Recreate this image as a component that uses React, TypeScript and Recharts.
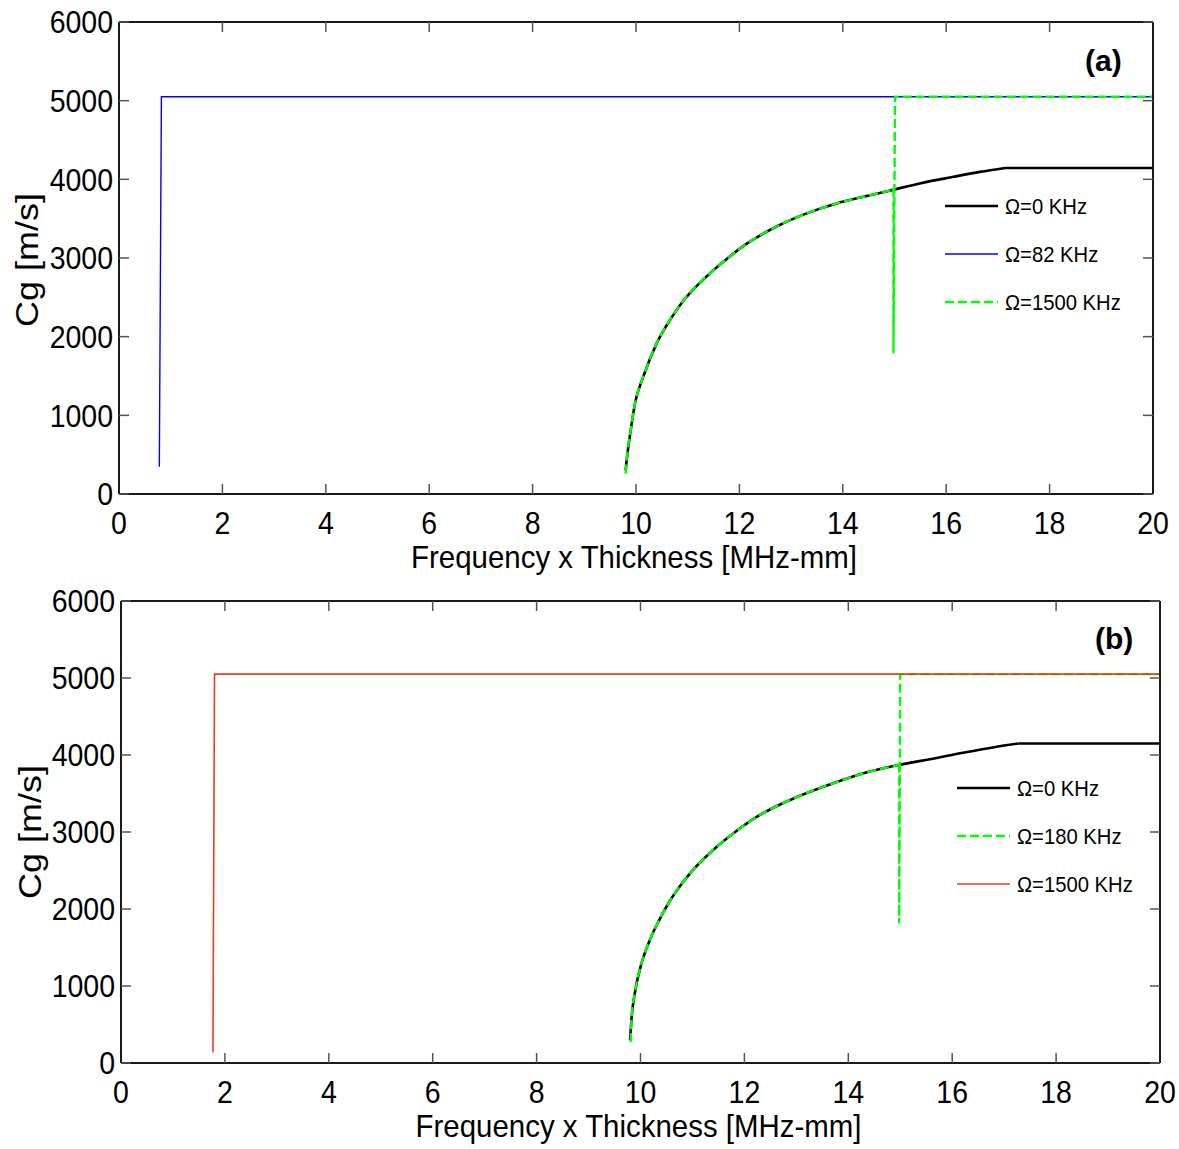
import React from 'react';
import { LineChart, Line, XAxis, YAxis, Legend } from 'recharts';

const FONT = '"Liberation Sans", Arial, sans-serif';
const SX = 0.89; // horizontal condensation of the reference's text

// ---------- shared axes ----------
const xTicks = [0, 2, 4, 6, 8, 10, 12, 14, 16, 18, 20];
const yTicks = [0, 1000, 2000, 3000, 4000, 5000, 6000];
const xLabel = 'Frequency x Thickness [MHz-mm]';
const yLabel = 'Cg [m/s]';

// ---------- panel (a) ----------
const aBlackCurveX = [9.8, 9.82, 9.9, 9.98, 10.14, 10.4, 10.72, 10.85, 11.43, 11.76, 12.15, 12.72, 13.3, 13.88, 14.4, 14.95, 15.49, 16.14, 16.65, 17.14];
const aBlackCurveY = [300, 430, 820, 1150, 1490, 1915, 2274, 2400, 2804, 2990, 3185, 3400, 3567, 3694, 3778, 3863, 3948, 4032, 4095, 4145];
const aBlackFlatX = [17.14, 20];
const aBlackFlatY = [4145, 4145];
const aBlueX = [0.78, 0.82, 20];
const aBlueY = [345, 5050, 5050];
const aGreenCurveX = [9.8, 9.82, 9.9, 9.98, 10.14, 10.4, 10.72, 10.85, 11.43, 11.76, 12.15, 12.72, 13.3, 13.88, 14.4, 14.95];
const aGreenCurveY = [260, 430, 820, 1150, 1490, 1915, 2274, 2400, 2804, 2990, 3185, 3400, 3567, 3694, 3778, 3863];
const aGreenJumpX = [14.95, 14.98, 14.98, 15.01, 20];
const aGreenJumpY = [3863, 3866, 1790, 5050, 5050];

// ---------- panel (b) ----------
const bBlackCurveX = [9.8, 9.83, 9.89, 10.02, 10.18, 10.34, 10.57, 10.82, 10.95, 11.4, 11.79, 12.3, 12.88, 13.71, 14.29, 14.96, 15.57, 16.21, 16.86, 17.28];
const bBlackCurveY = [300, 600, 905, 1295, 1597, 1830, 2110, 2350, 2460, 2766, 2983, 3221, 3416, 3632, 3762, 3870, 3944, 4030, 4108, 4150];
const bBlackFlatX = [17.28, 20];
const bBlackFlatY = [4150, 4150];
const bGreenCurveX = [9.81, 9.83, 9.89, 10.02, 10.18, 10.34, 10.57, 10.82, 10.95, 11.4, 11.79, 12.3, 12.88, 13.71, 14.29, 14.96];
const bGreenCurveY = [270, 600, 905, 1295, 1597, 1830, 2110, 2350, 2460, 2766, 2983, 3221, 3416, 3632, 3762, 3870];
const bGreenJumpX = [14.96, 14.98, 14.98, 15.0, 20];
const bGreenJumpY = [3870, 3872, 1815, 5050, 5050];
const bRedX = [1.77, 1.8, 20];
const bRedY = [140, 5050, 5050];

const zip = (xs: number[], ys: number[]) => xs.map((x, i) => ({ x, y: ys[i] }));

type Segment = { data: { x: number; y: number }[]; curve: 'linear' | 'monotone' };
type Series = {
  name: string;
  color: string;
  width: number;
  dash?: string;
  segments: Segment[];
};

const panelA: Series[] = [
  {
    name: 'Ω=0 KHz', color: '#000000', width: 2.6,
    segments: [
      { data: zip(aBlackCurveX, aBlackCurveY), curve: 'monotone' },
      { data: zip(aBlackFlatX, aBlackFlatY), curve: 'linear' },
    ],
  },
  { name: 'Ω=82 KHz', color: '#0000ff', width: 1.4, segments: [{ data: zip(aBlueX, aBlueY), curve: 'linear' }] },
  {
    name: 'Ω=1500 KHz', color: '#00ff00', width: 2.4, dash: '9 4',
    segments: [
      { data: zip(aGreenCurveX, aGreenCurveY), curve: 'monotone' },
      { data: zip(aGreenJumpX, aGreenJumpY), curve: 'linear' },
    ],
  },
];

const panelB: Series[] = [
  {
    name: 'Ω=0 KHz', color: '#000000', width: 2.6,
    segments: [
      { data: zip(bBlackCurveX, bBlackCurveY), curve: 'monotone' },
      { data: zip(bBlackFlatX, bBlackFlatY), curve: 'linear' },
    ],
  },
  {
    name: 'Ω=180 KHz', color: '#00ff00', width: 2.4, dash: '9 4',
    segments: [
      { data: zip(bGreenCurveX, bGreenCurveY), curve: 'monotone' },
      { data: zip(bGreenJumpX, bGreenJumpY), curve: 'linear' },
    ],
  },
  { name: 'Ω=1500 KHz', color: '#e8401c', width: 1.6, segments: [{ data: zip(bRedX, bRedY), curve: 'linear' }] },
];

type PanelProps = {
  series: Series[];
  height: number;
  top: number;
  right: number;
  yWidth: number;
  legendLeft: number;
  legendTop: number;
  tag: string;
  tagLeft: number;
  tagTop: number;
  yLabelDy: number;
  yLabelX: number;
};

const AXIS = '#1a1a1a';
const TICK = '#555555';

const XTick = (props: any) => {
  const { x, y, payload } = props;
  return (
    <g transform={`translate(${x},${y}) scale(${SX},1)`}>
      <text x={0} y={0} dy="0.71em" textAnchor="middle" fontFamily={FONT} fontSize={32} fill="#000">
        {payload.value}
      </text>
    </g>
  );
};

const YTick = (props: any) => {
  const { x, y, payload } = props;
  return (
    <g transform={`translate(${x},${y}) scale(${SX},1)`}>
      <text x={0} y={0} dy="0.355em" textAnchor="end" fontFamily={FONT} fontSize={32} fill="#000">
        {payload.value}
      </text>
    </g>
  );
};

function Panel(p: PanelProps) {
  const renderLegend = () => (
    <svg width={230} height={150} style={{ overflow: 'visible' }}>
      {p.series.map((s, i) => (
        <g key={s.name}>
          <line x1={5} x2={58} y1={21 + i * 48} y2={21 + i * 48} stroke={s.color} strokeWidth={s.width} strokeDasharray={s.dash} />
          <g transform={`translate(65,${21 + i * 48}) scale(0.92,1)`}>
            <text x={0} y={0} dominantBaseline="central" fontFamily={FONT} fontSize={22} fill="#000">
              {s.name}
            </text>
          </g>
        </g>
      ))}
    </svg>
  );

  const xLabelContent = (props: any) => {
    const vb = props.viewBox;
    return (
      <g transform={`translate(${vb.x + vb.width / 2 - 2},${vb.y + 74}) scale(0.92,1)`}>
        <text x={0} y={0} textAnchor="middle" fontFamily={FONT} fontSize={32} fill="#000">
          {xLabel}
        </text>
      </g>
    );
  };
  const yLabelContent = (props: any) => {
    const vb = props.viewBox;
    const cx = vb.x + p.yLabelX;
    const cy = vb.y + vb.height / 2 + p.yLabelDy;
    return (
      <g transform={`translate(${cx},${cy}) scale(0.85,1) rotate(-90)`}>
        <text x={0} y={0} textAnchor="middle" dominantBaseline="central" fontFamily={FONT} fontSize={36} fill="#000">
          {yLabel}
        </text>
      </g>
    );
  };

  return (
    <div style={{ position: 'absolute', left: 0, top: 0, width: 1179, height: p.height }}>
      <LineChart width={1179} height={p.height} margin={{ top: p.top - 1, right: p.right - 1, bottom: 0, left: 0 }}>
        <XAxis
          xAxisId="main"
          dataKey="x"
          type="number"
          domain={[0, 20]}
          ticks={xTicks}
          interval={0}
          allowDataOverflow
          height={86}
          tickSize={-10}
          tickMargin={27}
          tick={<XTick />}
          tickLine={{ stroke: TICK, strokeWidth: 1.5 }}
          axisLine={{ stroke: AXIS, strokeWidth: 2 }}
          label={{ content: xLabelContent }}
        />
        <XAxis
          xAxisId="top"
          orientation="top"
          dataKey="x"
          type="number"
          domain={[0, 20]}
          ticks={xTicks}
          interval={0}
          allowDataOverflow
          height={1}
          tickSize={-10}
          tickFormatter={() => ''}
          tickLine={{ stroke: TICK, strokeWidth: 1.5 }}
          axisLine={{ stroke: AXIS, strokeWidth: 2 }}
        />
        <YAxis
          yAxisId="main"
          type="number"
          domain={[0, 6000]}
          ticks={yTicks}
          interval={0}
          allowDataOverflow
          width={p.yWidth}
          tickSize={-10}
          tickMargin={16}
          tick={<YTick />}
          tickLine={{ stroke: TICK, strokeWidth: 1.5 }}
          axisLine={{ stroke: AXIS, strokeWidth: 2 }}
          label={{ content: yLabelContent }}
        />
        <YAxis
          yAxisId="right"
          orientation="right"
          type="number"
          domain={[0, 6000]}
          ticks={yTicks}
          interval={0}
          allowDataOverflow
          width={1}
          tickSize={-10}
          tickFormatter={() => ''}
          tickLine={{ stroke: TICK, strokeWidth: 1.5 }}
          axisLine={{ stroke: AXIS, strokeWidth: 2 }}
        />
        {p.series.flatMap((s) =>
          s.segments.map((seg, j) => (
            <Line
              key={`${s.name}-${j}`}
              xAxisId="main"
              yAxisId="main"
              data={seg.data}
              dataKey="y"
              name={s.name}
              type={seg.curve}
              stroke={s.color}
              strokeWidth={s.width}
              strokeDasharray={s.dash}
              dot={false}
              activeDot={false}
              isAnimationActive={false}
            />
          ))
        )}
        <Legend
          layout="vertical"
          align="center"
          verticalAlign="middle"
          content={renderLegend}
          wrapperStyle={{ left: p.legendLeft, top: p.legendTop, width: 230, height: 150 }}
        />
      </LineChart>
      <div
        style={{
          position: 'absolute',
          left: p.tagLeft,
          top: p.tagTop,
          fontFamily: FONT,
          fontWeight: 'bold',
          fontSize: 30,
          lineHeight: '30px',
          color: '#000',
        }}
      >
        {p.tag}
      </div>
    </div>
  );
}

export default function App() {
  return (
    <div style={{ position: 'absolute', left: 0, top: 0, width: 1179, height: 1149, background: '#fff' }}>
      <div style={{ position: 'absolute', left: 0, top: 0 }}>
        <Panel series={panelA} height={580} top={22} right={26} yWidth={119} legendLeft={940} legendTop={185} tag="(a)" tagLeft={1085} tagTop={46} yLabelDy={2} yLabelX={27} />
      </div>
      <div style={{ position: 'absolute', left: 0, top: 580 }}>
        <Panel series={panelB} height={569} top={21} right={19} yWidth={121} legendLeft={952} legendTop={187} tag="(b)" tagLeft={1095} tagTop={44} yLabelDy={0} yLabelX={30} />
      </div>
    </div>
  );
}
